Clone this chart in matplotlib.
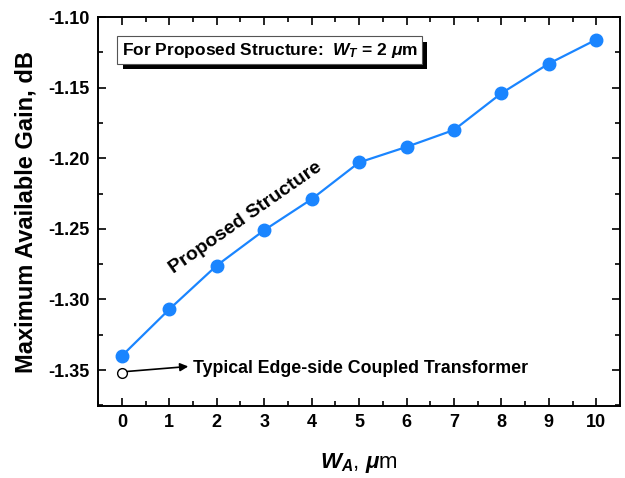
import matplotlib
matplotlib.use("Agg")
import matplotlib.pyplot as plt
import matplotlib.patheffects as pe
from matplotlib.ticker import MultipleLocator

# ── data ──────────────────────────────────────────────────────────────────────
wa = [0, 1, 2, 3, 4, 5, 6, 7, 8, 9, 10]
mag_proposed = [-1.340, -1.307, -1.276, -1.251, -1.229, -1.203,
                -1.192, -1.180, -1.154, -1.133, -1.116]
wa_typical = [0]
mag_typical = [-1.352]

plt.rcParams["font.family"] = ["Liberation Sans", "DejaVu Sans"]
plt.rcParams["font.weight"] = "bold"
plt.rcParams["mathtext.fontset"] = "custom"
plt.rcParams["mathtext.it"] = "Liberation Sans:bold:italic"
plt.rcParams["mathtext.rm"] = "Liberation Sans:bold"
plt.rcParams["mathtext.bf"] = "Liberation Sans:bold"

blue = "#1a85ff"

fig = plt.figure(figsize=(6.25, 4.78), dpi=100)
ax = fig.add_axes([0.157, 0.1506, 0.835, 0.8138])

ax.plot(wa, mag_proposed, "-o", color=blue, lw=1.6, ms=9, zorder=3)
ax.plot(wa_typical, mag_typical, "o", mfc="white", mec="black",
        mew=1.0, ms=7, zorder=3)

ax.set_xlim(-0.5, 10.5)
ax.set_ylim(-1.3755, -1.10)
ax.xaxis.set_major_locator(MultipleLocator(1))
ax.xaxis.set_minor_locator(MultipleLocator(0.5))
ax.yaxis.set_major_locator(MultipleLocator(0.05))
ax.yaxis.set_minor_locator(MultipleLocator(0.025))
ax.yaxis.set_major_formatter(matplotlib.ticker.FormatStrFormatter("%.2f"))

ax.tick_params(which="both", direction="in", top=True, right=True,
               labeltop=False, labelright=False, width=1.2)
ax.tick_params(which="major", length=6, labelsize=13, pad=6)
ax.tick_params(which="minor", length=3.5)
for s in ax.spines.values():
    s.set_linewidth(1.4)
for lab in ax.get_xticklabels() + ax.get_yticklabels():
    lab.set_fontweight("bold")

ax.set_ylabel("Maximum Available Gain, dB", fontsize=17, fontweight="bold",
              labelpad=8)
ax.set_xlabel(r"$W_A$, $\mu$m", fontsize=16, labelpad=14)

# boxed note with drop shadow
note = ax.text(0.045, 0.915, r"For Proposed Structure:  $W_T$ = 2 $\mu$m",
               transform=ax.transAxes, fontsize=12.5, fontweight="bold",
               va="center", ha="left",
               bbox=dict(boxstyle="square,pad=0.25", fc="white", ec="#555555",
                         lw=0.8))
note.get_bbox_patch().set_path_effects([
    pe.SimplePatchShadow(offset=(4, -4), shadow_rgbFace="black", alpha=1),
    pe.Normal()])

ax.text(2.6, -1.242, "Proposed Structure", rotation=35, fontsize=14,
        fontweight="bold", ha="center", va="center")

ax.annotate("Typical Edge-side Coupled Transformer",
            xy=(1.5, -1.349), xytext=(1.5, -1.349),
            fontsize=12.8, fontweight="bold", va="center", ha="left")
ax.annotate("", xy=(1.4, -1.3475), xytext=(0.12, -1.351),
            arrowprops=dict(arrowstyle="-|>", color="black", lw=1.2,
                            mutation_scale=12, shrinkA=0, shrinkB=0))

fig.savefig("out.png", dpi=100)
